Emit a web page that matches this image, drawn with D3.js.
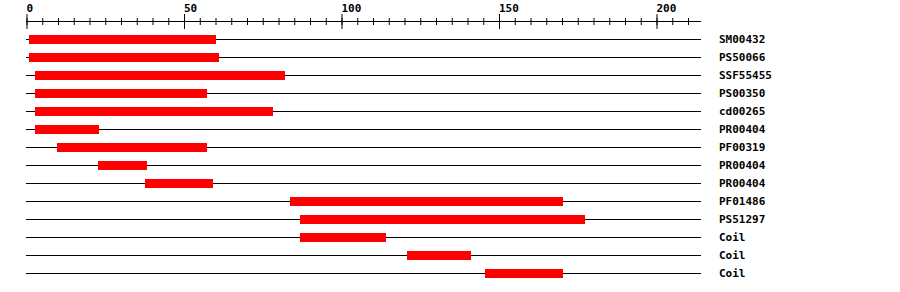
<!DOCTYPE html>
<html>
<head>
<meta charset="utf-8">
<script src="https://cdn.jsdelivr.net/npm/d3@7/dist/d3.min.js"></script>
<style>
  body { margin: 0; background: #fff; }
  svg { display: block; }
  text { font-family: "DejaVu Sans Mono", "Liberation Mono", monospace; font-weight: bold; font-size: 11px; fill: #000; }
</style>
</head>
<body>
<div id="chart"></div>
<script>
// Domain hits, one row each (start / end in residue positions)
const labels = ['SM00432', 'PS50066', 'SSF55455', 'PS00350', 'cd00265', 'PR00404', 'PF00319',
  'PR00404', 'PR00404', 'PF01486', 'PS51297', 'Coil', 'Coil', 'Coil'];
const starts = [1, 1, 3, 3, 3, 3, 10, 23, 38, 84, 87, 87, 121, 146];
const ends   = [60, 61, 82, 57, 78, 23, 57, 38, 59, 170, 177, 114, 141, 170];
const majorTicks = [0, 50, 100, 150, 200];
const minorTicks = d3.range(0, 215, 5);

const width = 900, height = 292;
const axisY = 21.5, rowTop = 39.5, rowStep = 18, barH = 9;

const svg = d3.select('#chart').append('svg')
  .attr('width', width)
  .attr('height', height);

const x = d3.scaleLinear().domain([0, 214]).range([26.5, 700.6]);

// Minor ticks
const minorAxis = d3.axisTop(x).tickValues(minorTicks).tickSize(0).tickFormat('');
const gMinor = svg.append('g').attr('transform', `translate(0,${axisY})`).call(minorAxis);
gMinor.select('.domain').remove();
gMinor.selectAll('.tick line')
  .attr('y1', -3.5).attr('y2', 3.5)
  .attr('stroke', '#000');

// Major ticks + labels
const majorAxis = d3.axisTop(x).tickValues(majorTicks).tickSize(0).tickFormat(d3.format('d'));
const gMajor = svg.append('g').attr('transform', `translate(0,${axisY})`).call(majorAxis);
gMajor.select('.domain').remove();
gMajor.selectAll('.tick line')
  .attr('y1', -7.5).attr('y2', 7.5)
  .attr('stroke', '#000');
gMajor.selectAll('.tick text')
  .attr('text-anchor', 'start')
  .attr('x', -0.5)
  .attr('y', -10)
  .attr('dy', 0)
  .attr('fill', '#000')
  .style('font-size', '11px')
  .style('font-family', '"DejaVu Sans Mono", monospace')
  .style('font-weight', 'bold');

svg.append('line')
  .attr('x1', 26).attr('x2', 701)
  .attr('y1', axisY).attr('y2', axisY)
  .attr('stroke', '#000');

// Rows
const rows = svg.selectAll('.row')
  .data(labels.map((l, i) => ({ label: l, start: starts[i], end: ends[i], i })))
  .enter().append('g')
  .attr('class', 'row')
  .attr('transform', d => `translate(0,${rowTop + d.i * rowStep})`);

rows.append('line')
  .attr('x1', 26).attr('x2', 701)
  .attr('stroke', '#000');

rows.append('rect')
  .attr('x', d => Math.floor(x(d.start) - 0.5))
  .attr('width', d => Math.round(x(d.end) + 0.5) - Math.floor(x(d.start) - 0.5))
  .attr('y', -barH / 2)
  .attr('height', barH)
  .attr('fill', '#ff0000')
  .attr('shape-rendering', 'crispEdges');

rows.append('text')
  .attr('x', 719)
  .attr('y', 3)
  .text(d => d.label);
</script>
</body>
</html>
